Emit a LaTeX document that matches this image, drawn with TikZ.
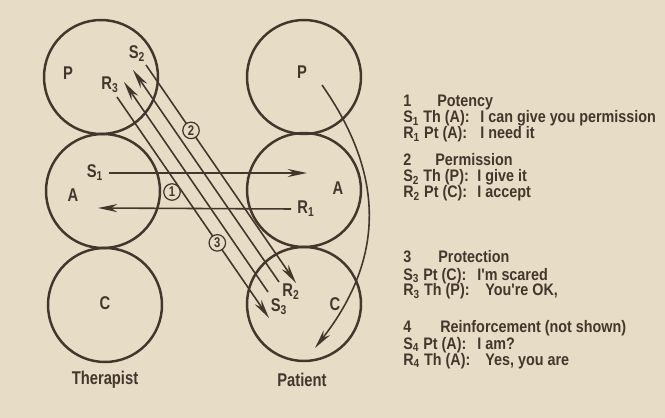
\documentclass[tikz,border=0pt]{standalone}
\usepackage{fontspec}
\setmainfont{Liberation Sans}[FakeStretch=0.8]
\newfontfamily\legendfont{Liberation Sans}[FakeStretch=0.86]
\usetikzlibrary{arrows.meta}
\definecolor{ink}{HTML}{45362D}
\definecolor{paper}{HTML}{E7DCC6}

\begin{document}
\begin{tikzpicture}[x=0.02cm,y=-0.02cm,every node/.style={font=\bfseries\fontsize{10.5}{12}\selectfont,text=ink},
  ego/.style={circle,draw=ink,line width=1.4pt,minimum size=2.28cm,inner sep=0},
  num/.style={circle,draw=ink,fill=paper,line width=0.7pt,inner sep=0,minimum size=0.33cm,font=\bfseries\footnotesize},
  arr/.style={draw=ink,line width=0.9pt,-{Stealth[length=11pt,width=4.6pt]}},
  txt/.style={anchor=base west,inner sep=0,font=\legendfont\bfseries\fontsize{9.5}{11}\selectfont}]
\fill[paper] (0,0) rectangle (665,418);
% ego states
\node[ego] (thP) at (101,77) {};
\node[ego] (thA) at (103,191) {};
\node[ego] (thC) at (105,305) {};
\node[ego] (ptP) at (304,77) {};
\node[ego] (ptA) at (304,190) {};
\node[ego] (ptC) at (304,304) {};
\node (lthP) at (68,73) {P};
\node (lthA) at (73,195) {A};
\node (lthC) at (105,303) {C};
\node (lptP) at (302,72) {P};
\node (lptA) at (338,188) {A};
\node (lptC) at (335,304) {C};
\node (th) at (105,380) {Therapist};
\node (pt) at (302,380) {Patient};
% 1 potency
\node (s1) at (95,173) {S\textsubscript{1}};
\node (r1) at (306,209) {R\textsubscript{1}};
\coordinate (s1tip) at (307,173);
\coordinate (r1tip) at (98,208);
\draw[arr] (s1.east) -- (s1tip);
\draw[arr] (r1.west) -- (r1tip);
\node[num] (n1) at (172,192) {1};
% 2 permission, 3 protection
\node (s2) at (137,54) {S\textsubscript{2}};
\node (r2) at (291,292) {R\textsubscript{2}};
\node (r3) at (110,85) {R\textsubscript{3}};
\node (s3) at (279,307) {S\textsubscript{3}};
\coordinate (r3a) at (117,97);  \coordinate (r3b) at (269,318);
\coordinate (s3a) at (268,292); \coordinate (s3b) at (124,82);
\coordinate (r2a) at (279,282); \coordinate (r2b) at (133,70);
\coordinate (s2a) at (146,65);  \coordinate (s2b) at (296,283);
\draw[arr] (s3a) -- (s3b);
\draw[arr] (r2a) -- (r2b);
\draw[arr] (r3a) -- (r3b) node[num,pos=0.66] (n3) {3};
\draw[arr] (s2a) -- (s2b) node[num,pos=0.3] (n2) {2};
% reinforcement loop P -> C
\coordinate (loopa) at (322,85);
\coordinate (loopb) at (315,348);
\draw[arr] (loopa) .. controls (385,175) and (385,258) .. (loopb);
% legend
\node[txt] (h1) at (403,107) {1};  \node[txt] (t1) at (437,107) {Potency};
\node[txt] (a1) at (403,123) {S\textsubscript{1} Th (A):}; \node[txt] (b1) at (480,123) {I can give you permission};
\node[txt] (c1) at (403,139) {R\textsubscript{1} Pt (A):}; \node[txt] (d1) at (480,139) {I need it};
\node[txt] (h2) at (403,166) {2};  \node[txt] (t2) at (435,166) {Permission};
\node[txt] (a2) at (403,182) {S\textsubscript{2} Th (P):}; \node[txt] (b2) at (477,182) {I give it};
\node[txt] (c2) at (403,198) {R\textsubscript{2} Pt (C):}; \node[txt] (d2) at (477,198) {I accept};
\node[txt] (h3) at (403,262) {3};  \node[txt] (t3) at (438,262) {Protection};
\node[txt] (a3) at (403,280) {S\textsubscript{3} Pt (C):}; \node[txt] (b3) at (477,280) {I'm scared};
\node[txt] (c3) at (403,296) {R\textsubscript{3} Th (P):}; \node[txt] (d3) at (485,296) {You're OK,};
\node[txt] (h4) at (403,332) {4};  \node[txt] (t4) at (440,332) {Reinforcement (not shown)};
\node[txt] (a4) at (403,349) {S\textsubscript{4} Pt (A):}; \node[txt] (b4) at (477,349) {I am?};
\node[txt] (c4) at (403,365) {R\textsubscript{4} Th (A):}; \node[txt] (d4) at (485,365) {Yes, you are};
\end{tikzpicture}
\end{document}
